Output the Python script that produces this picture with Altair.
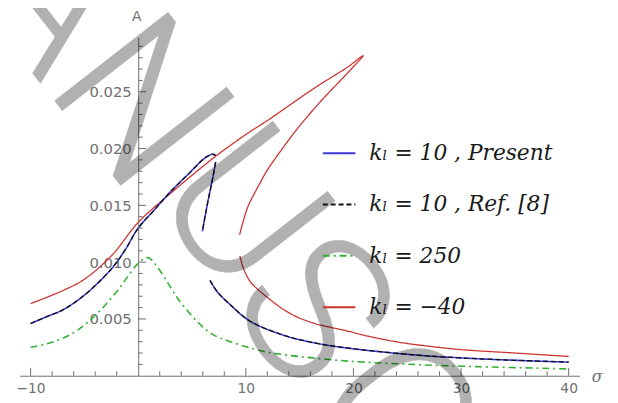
import altair as alt
import pandas as pd

# ---------------- data ----------------
labels = ["kₗ = 10 , Present", "kₗ = 10 , Ref. [8]", "kₗ = 250", "kₗ = −40"]

# k_l = 10 (present and Ref. [8] coincide)
k10_upper_sigma = [-10, -8.5, -7, -5, -2.5, -1.2, 0, 1.5, 3.0, 4.6, 6.1, 6.6, 6.9, 7.2]
k10_upper_A = [0.0046, 0.0052, 0.0058, 0.0071, 0.0094, 0.0111, 0.0130, 0.0146, 0.0162,
               0.0177, 0.0191, 0.0194, 0.0195, 0.0194]
k10_mid_sigma = [7.2, 6.88, 6.51, 6.21, 5.96]
k10_mid_A = [0.0188, 0.0172, 0.0155, 0.0140, 0.0127]
k10_low_sigma = [6.67, 7.34, 8.5, 10.4, 13.5, 16.5, 19.5, 25.7, 30, 35, 40]
k10_low_A = [0.0084, 0.0074, 0.0063, 0.0048, 0.00357, 0.00287, 0.00243, 0.00183,
             0.00157, 0.00136, 0.0012]

# k_l = -40
km40_upper_sigma = [-10, -7, -5, -2.45, 0, 3.06, 6.1, 7.3, 10.1, 11.9, 16.5, 19.5, 20.9,
                    19.6, 17.1, 15.0, 13.4, 12.0, 11.0, 10.2, 9.7, 9.42]
km40_upper_A = [0.00635, 0.0075, 0.0085, 0.0106, 0.0135, 0.0161, 0.0185, 0.0194, 0.0213,
                0.0224, 0.0254, 0.0272, 0.02817,
                0.0268, 0.0243, 0.0220, 0.0200, 0.0181, 0.0164, 0.0149, 0.0134, 0.0124]
km40_low_sigma = [9.45, 9.8, 10.4, 11.0, 12.0, 13.4, 14.7, 16.4, 17.7, 19.6, 20.8, 23.9,
                  25.7, 30, 35, 40]
km40_low_A = [0.01055, 0.0094, 0.0083, 0.0077, 0.0069, 0.0059, 0.0052, 0.0046, 0.0043,
              0.0039, 0.0036, 0.0030, 0.00275, 0.0023, 0.0020, 0.0017]

# k_l = 250
k250_sigma = [-10, -8.5, -7, -5.5, -4, -2.9, -1.83, -0.92, 0, 0.9, 1.83, 3.06, 3.67, 5.5,
              7.0, 8.56, 11.6, 13.46, 16.2, 19.6, 25.7, 30, 40]
k250_A = [0.0025, 0.0028, 0.0033, 0.0041, 0.0053, 0.0064, 0.0076, 0.0088, 0.0099, 0.0104,
          0.0095, 0.0077, 0.0068, 0.00475, 0.0036, 0.0030, 0.00215, 0.00186, 0.00157,
          0.00128, 0.00099, 0.00084, 0.0006]

x_major = [-10, 10, 20, 30, 40]
x_minor = [v for v in range(-10, 41, 2) if v % 10 != 0]
y_major = [0.005, 0.010, 0.015, 0.020, 0.025]
y_minor = [0.001, 0.002, 0.003, 0.004, 0.006, 0.007, 0.008, 0.009, 0.011, 0.012, 0.013,
           0.014, 0.016, 0.017, 0.018, 0.019, 0.021, 0.022, 0.023, 0.024, 0.026, 0.027,
           0.028, 0.029]

# watermark letters ("ACCEPTED MANUSCRIPT" stamp) and where each glyph starts
wm_letters = ["A", "N", "U", "S", "C"]
wm_x = [-56, 24, 131.5, 207, 286]
wm_y = [-52, 50, 162, 270, 373]

# ---------------- table ----------------
rows = []
def add(series, seg, sig, amp):
    for i, (s, a) in enumerate(zip(sig, amp)):
        rows.append(dict(series=series, seg=seg, idx=i, sigma=s, A=a))

for lab in labels[:2]:
    add(lab, "u", k10_upper_sigma, k10_upper_A)
    add(lab, "m", k10_mid_sigma, k10_mid_A)
    add(lab, "l", k10_low_sigma, k10_low_A)
add(labels[2], "u", k250_sigma, k250_A)
add(labels[3], "u", km40_upper_sigma, km40_upper_A)
add(labels[3], "l", km40_low_sigma, km40_low_A)
df = pd.DataFrame(rows)

# ---------------- styling ----------------
W, H = 567, 343
XMIN, XMAX = -11, 41
YMAX = 0.0298
X0 = (0 - XMIN) / (XMAX - XMIN) * W
AX = "#6e6e6e"
LBL = "#707070"

colors = ["#3a3ad8", "#111111", "#33b033", "#cc3333"]
dashes = [[1, 0], [5, 3], [7, 4, 2, 4], [1, 0]]

leg = alt.Legend(orient="none", legendX=306, legendY=100, title=None,
                 symbolType="stroke", symbolSize=1089, symbolStrokeWidth=2,
                 labelFont="DejaVu Serif", labelFontSize=22, labelFontStyle="italic",
                 labelColor="#1a1a1a", labelOffset=13, rowPadding=23, labelLimit=400,
                 padding=0)
COLOR = alt.Color("series:N", scale=alt.Scale(domain=labels, range=colors), legend=leg)
DASH = alt.StrokeDash("series:N", scale=alt.Scale(domain=labels, range=dashes), legend=leg)

X = alt.X("sigma:Q", scale=alt.Scale(domain=[XMIN, XMAX], nice=False, zero=False),
          axis=alt.Axis(values=x_major, ticks=False, grid=False, title=None,
                        domainColor=AX, labelColor=LBL, labelFont="DejaVu Sans",
                        labelFontSize=14, labelPadding=6, labelFlush=False))
Y = alt.Y("A:Q", scale=alt.Scale(domain=[0, YMAX], nice=False),
          axis=alt.Axis(values=y_major, format=".3f", ticks=False, grid=False, title=None,
                        offset=-X0, domainColor=AX, labelColor=LBL, labelFont="DejaVu Sans",
                        labelFontSize=15, labelPadding=7))


def line_layer(lab, width):
    return (alt.Chart(df).transform_filter(alt.datum.series == lab)
            .mark_line(strokeWidth=width, interpolate="catmull-rom")
            .encode(x=X, y=Y, color=COLOR, strokeDash=DASH, detail="seg:N", order="idx:Q"))


layers = [
    line_layer(labels[3], 1.3),
    line_layer(labels[2], 1.6),
    line_layer(labels[0], 1.6),
    line_layer(labels[1], 1.3),
]

# tick marks (pointing into the plot, Mathematica style)
layers.append(alt.Chart(pd.DataFrame({"sigma": x_major})).mark_rule(color=AX)
              .encode(x=X, y=alt.value(H), y2=alt.value(H - 8)))
layers.append(alt.Chart(pd.DataFrame({"sigma": x_minor})).mark_rule(color=AX)
              .encode(x=X, y=alt.value(H), y2=alt.value(H - 4.5)))
layers.append(alt.Chart(pd.DataFrame({"A": y_major})).mark_rule(color=AX)
              .encode(y=Y, x=alt.value(X0), x2=alt.value(X0 + 8)))
layers.append(alt.Chart(pd.DataFrame({"A": y_minor})).mark_rule(color=AX)
              .encode(y=Y, x=alt.value(X0), x2=alt.value(X0 + 4.5)))

# axis names
layers.append(alt.Chart(pd.DataFrame({"t": ["A"]}))
              .mark_text(font="DejaVu Sans", fontSize=14, color=LBL, baseline="middle")
              .encode(text="t:N", x=alt.value(X0 - 1.5), y=alt.value(-20)))
layers.append(alt.Chart(pd.DataFrame({"t": ["σ"]}))
              .mark_text(font="DejaVu Serif", fontSize=16, fontStyle="italic", color=LBL,
                         baseline="middle")
              .encode(text="t:N", x=alt.value(W + 18), y=alt.value(H + 1)))

# watermark, one glyph at a time along a 52-degree baseline
for ch, wx, wy in zip(wm_letters, wm_x, wm_y):
    layers.append(alt.Chart(pd.DataFrame({"t": [ch]}))
                  .mark_text(font="Roboto, Liberation Sans", fontSize=205, fontWeight=300,
                             color="black", stroke="black", strokeWidth=0.6, opacity=0.3,
                             align="left", baseline="alphabetic", angle=52)
                  .encode(text="t:N", x=alt.value(wx), y=alt.value(wy)))

chart = (alt.layer(*layers)
         .properties(width=W, height=H, autosize="none",
                     padding={"left": 12, "top": 27, "right": 31, "bottom": 25})
         .configure_view(stroke=None))

chart.save("out.html", embed_options={"renderer": "svg", "actions": False})
